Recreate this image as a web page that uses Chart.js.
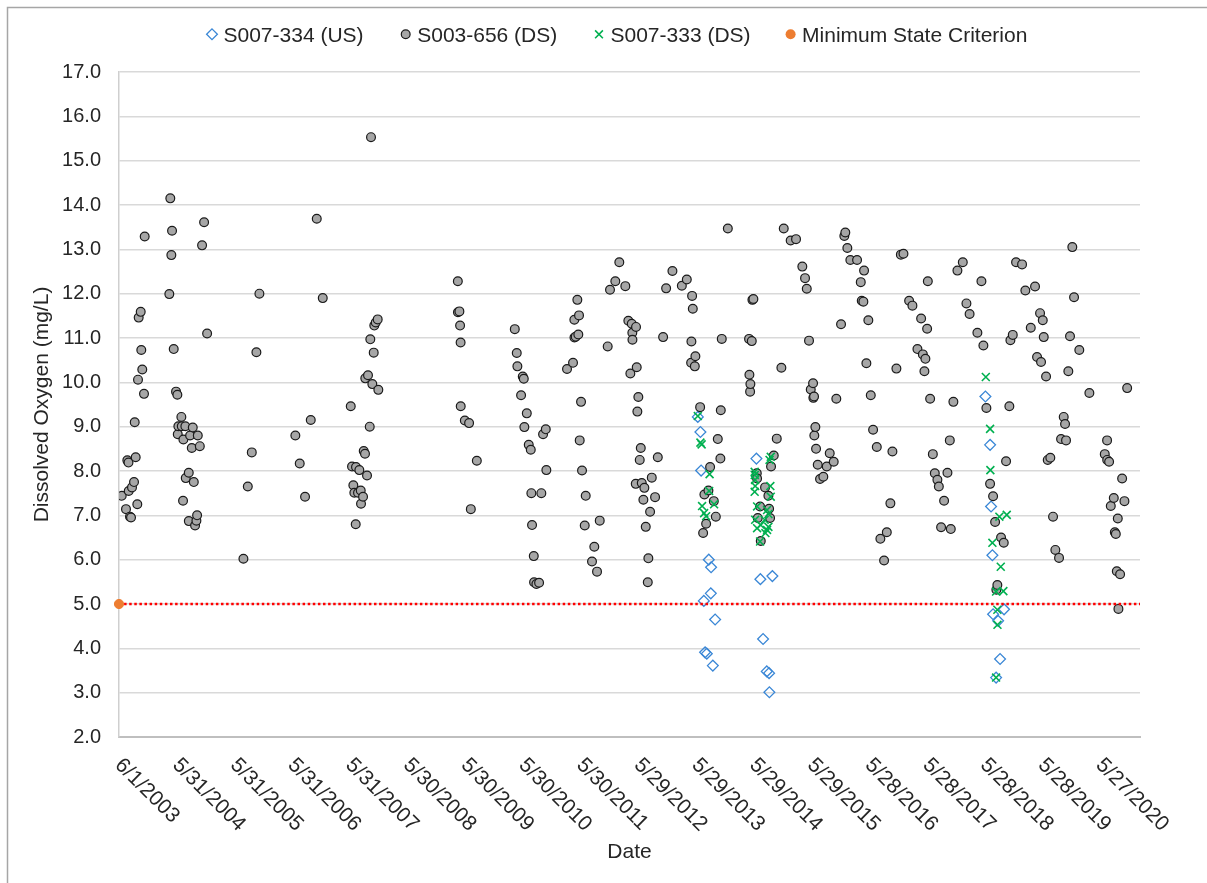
<!DOCTYPE html>
<html>
<head>
<meta charset="utf-8">
<script src="https://cdn.jsdelivr.net/npm/chart.js@4.4.1/dist/chart.umd.min.js"></script>
<style>
  html, body { margin: 0; padding: 0; background: #ffffff; }
  #wrap { position: relative; width: 1207px; height: 883px; }
  canvas { display: block; }
</style>
</head>
<body>
<div id="wrap"><canvas id="c" width="1207" height="883"></canvas></div>
<script>
// ---------------- DATA ----------------
// x-axis tick labels (dates, M/D/YYYY), 365-day spacing
const xTickLabels = ["6/1/2003","5/31/2004","5/31/2005","5/31/2006","5/31/2007","5/30/2008",
  "5/30/2009","5/30/2010","5/30/2011","5/29/2012","5/29/2013","5/29/2014","5/29/2015",
  "5/28/2016","5/28/2017","5/28/2018","5/28/2019","5/27/2020"];
const axisStartDate = "2003-06-01";
const axisEndDate = "2021-02-04";
const yMin = 2, yMax = 17, yStep = 1;
const criterionValue = 5.0;

const seriesNames = ["S007-334 (US)", "S003-656 (DS)", "S007-333 (DS)", "Minimum State Criterion"];

// [sample date as decimal year, dissolved oxygen mg/L]
const s007_334_us = [
  [2013.436,9.22],[2013.481,8.88],[2013.493,8.01],[2013.540,5.07],[2013.562,3.91],[2013.592,3.88],
  [2013.626,6.00],[2013.661,5.24],[2013.666,5.83],[2013.696,3.61],[2013.736,4.65],
  [2014.451,8.28],[2014.520,5.56],[2014.567,4.21],[2014.631,3.48],[2014.671,3.44],[2014.676,3.01],[2014.728,5.63],
  [2018.417,9.68],[2018.498,8.59],[2018.515,7.20],[2018.538,6.10],[2018.550,4.77],[2018.602,3.34],
  [2018.637,4.62],[2018.671,3.76],[2018.740,4.88]
];

const s003_656_ds = [
  [2003.461,7.44],[2003.535,7.14],[2003.558,8.24],[2003.578,8.19],[2003.582,7.55],[2003.604,6.97],[2003.622,6.95],
  [2003.639,7.63],[2003.674,7.75],[2003.686,9.10],[2003.703,8.31],[2003.731,7.25],[2003.743,10.06],[2003.755,11.46],
  [2003.790,11.59],[2003.800,10.73],[2003.817,10.29],[2003.847,9.74],[2003.859,13.29],
  [2004.285,11.99],[2004.302,14.15],[2004.320,12.87],[2004.332,13.42],[2004.361,10.75],[2004.401,9.79],[2004.424,9.72],
  [2004.431,8.83],[2004.441,9.01],[2004.493,9.22],[2004.500,9.01],[2004.522,7.33],[2004.528,8.71],[2004.562,9.01],
  [2004.569,7.84],[2004.621,7.96],[2004.622,6.87],[2004.644,8.80],[2004.673,8.52],[2004.690,8.98],[2004.708,7.75],
  [2004.730,6.77],[2004.753,6.88],[2004.765,7.00],[2004.777,8.80],[2004.812,8.56],[2004.851,13.09],[2004.886,13.61],
  [2004.938,11.10],
  [2005.567,6.02],[2005.643,7.65],[2005.712,8.42],[2005.792,10.68],[2005.844,12.00],
  [2006.467,8.80],[2006.543,8.17],[2006.635,7.42],[2006.734,9.15],[2006.838,13.69],[2006.942,11.90],
  [2007.427,9.46],[2007.449,8.10],[2007.472,7.68],[2007.489,7.51],[2007.513,6.80],[2007.518,8.09],[2007.553,7.51],
  [2007.576,8.02],[2007.600,7.56],[2007.605,7.26],[2007.640,7.42],[2007.652,8.45],[2007.674,8.39],[2007.679,10.09],
  [2007.709,7.90],[2007.726,10.16],[2007.756,9.00],[2007.766,10.97],[2007.778,15.53],[2007.801,9.96],[2007.825,10.67],
  [2007.835,11.28],[2007.860,11.35],[2007.894,11.42],[2007.905,9.83],
  [2009.280,12.28],[2009.282,11.58],[2009.307,11.60],[2009.319,11.28],[2009.328,10.90],[2009.330,9.46],[2009.401,9.14],
  [2009.475,9.08],[2009.505,7.14],[2009.609,8.23],
  [2010.267,11.20],[2010.301,10.66],[2010.312,10.36],[2010.376,9.71],[2010.405,10.13],[2010.423,10.08],[2010.433,8.99],
  [2010.475,9.30],[2010.509,8.59],[2010.544,8.48],[2010.554,7.50],[2010.566,6.78],[2010.596,6.08],[2010.601,5.49],
  [2010.641,5.45],[2010.688,5.48],[2010.727,7.50],[2010.757,8.83],[2010.804,8.94],[2010.814,8.02],
  [2011.172,10.30],[2011.276,10.44],[2011.299,11.41],[2011.301,11.01],[2011.323,11.03],[2011.351,11.86],[2011.368,11.08],
  [2011.380,11.51],[2011.392,8.69],[2011.415,9.56],[2011.432,8.01],[2011.479,6.77],[2011.496,7.44],[2011.605,5.96],
  [2011.645,6.29],[2011.692,5.73],[2011.739,6.88],[2011.877,10.81],[2011.917,12.09],
  [2012.009,12.28],[2012.078,12.71],[2012.182,12.17],[2012.234,11.39],[2012.269,10.20],[2012.293,11.32],[2012.303,11.12],
  [2012.305,10.96],[2012.362,7.71],[2012.367,11.25],[2012.379,10.34],[2012.390,9.34],[2012.407,9.67],[2012.431,8.25],
  [2012.449,8.52],[2012.466,7.73],[2012.494,7.35],[2012.511,7.62],[2012.535,6.74],[2012.570,5.49],[2012.580,6.03],
  [2012.610,7.08],[2012.639,7.85],[2012.696,7.41],[2012.743,8.31],[2012.835,11.02],[2012.887,12.12],[2012.996,12.51],
  [2013.159,12.18],[2013.245,12.32],[2013.320,10.44],[2013.325,10.92],[2013.337,11.95],[2013.349,11.66],[2013.384,10.36],
  [2013.394,10.59],[2013.476,9.44],[2013.528,6.60],[2013.550,7.47],[2013.580,6.81],[2013.620,7.56],[2013.649,8.09],
  [2013.713,7.32],[2013.748,6.97],[2013.782,8.72],[2013.827,8.28],[2013.834,9.37],[2013.851,10.98],[2013.956,13.47],
  [2014.324,10.98],[2014.330,10.17],[2014.342,9.79],[2014.347,9.96],[2014.371,10.93],[2014.382,11.86],[2014.399,11.88],
  [2014.458,7.95],[2014.463,7.83],[2014.475,6.94],[2014.515,7.20],[2014.527,6.42],[2014.601,7.63],[2014.659,7.44],
  [2014.671,7.15],[2014.688,6.94],[2014.705,8.10],[2014.752,8.35],[2014.804,8.73],[2014.884,10.33],[2014.925,13.47],
  [2015.045,13.20],[2015.138,13.23],[2015.247,12.61],[2015.294,12.35],[2015.324,12.11],[2015.363,10.94],[2015.393,9.84],
  [2015.433,9.98],[2015.438,9.65],[2015.450,9.68],[2015.455,8.80],[2015.473,8.99],[2015.485,8.50],[2015.514,8.14],
  [2015.554,7.82],[2015.611,7.87],[2015.670,8.10],[2015.722,8.40],[2015.791,8.21],[2015.836,9.63],[2015.918,11.31],
  [2015.975,13.30],[2015.992,13.38],
  [2016.027,13.03],[2016.079,12.76],[2016.195,12.76],[2016.259,12.26],[2016.276,11.84],[2016.304,11.82],[2016.316,12.52],
  [2016.356,10.43],[2016.390,11.40],[2016.432,9.71],[2016.472,8.93],[2016.536,8.54],[2016.598,6.47],[2016.662,5.98],
  [2016.709,6.62],[2016.771,7.27],[2016.806,8.44],[2016.875,10.31],[2016.952,12.88],[2016.997,12.90],
  [2017.095,11.84],[2017.152,11.73],[2017.239,10.75],[2017.303,11.44],[2017.333,10.63],[2017.360,10.25],[2017.377,10.53],
  [2017.407,11.21],[2017.419,12.28],[2017.459,9.63],[2017.506,8.38],[2017.540,7.95],[2017.585,7.80],[2017.610,7.65],
  [2017.649,6.73],[2017.701,7.33],[2017.759,7.96],[2017.800,8.69],[2017.817,6.69],[2017.862,9.56],[2017.932,12.52],
  [2018.025,12.71],[2018.088,11.78],[2018.143,11.54],[2018.278,11.12],[2018.348,12.28],[2018.382,10.83],[2018.434,9.42],
  [2018.498,7.71],[2018.550,7.43],[2018.585,6.85],[2018.607,5.32],[2018.624,5.43],[2018.688,6.50],[2018.735,6.38],
  [2018.775,8.22],[2018.832,9.46],[2018.850,10.95],[2018.891,11.07],[2018.948,12.71],
  [2019.052,12.66],[2019.109,12.07],[2019.203,11.23],[2019.277,12.16],[2019.312,10.57],[2019.364,11.56],[2019.381,10.46],
  [2019.411,11.40],[2019.428,11.02],[2019.468,10.13],[2019.497,8.25],[2019.542,8.30],[2019.589,6.97],[2019.629,6.22],
  [2019.693,6.04],[2019.728,8.72],[2019.774,9.22],[2019.797,9.06],[2019.814,8.69],[2019.854,10.25],[2019.883,11.04],
  [2019.923,13.05],[2019.953,11.92],
  [2020.044,10.73],[2020.218,9.76],[2020.484,8.38],[2020.524,8.69],[2020.526,8.25],[2020.559,8.21],[2020.588,7.21],
  [2020.640,7.39],[2020.658,6.62],[2020.675,6.58],[2020.692,5.74],[2020.709,6.93],[2020.720,4.89],[2020.749,5.67],
  [2020.784,7.83],[2020.824,7.32],[2020.871,9.87]
];

const s007_333_ds = [
  [2013.436,9.24],[2013.481,8.64],[2013.502,8.60],[2013.510,7.21],[2013.545,7.05],[2013.580,6.98],[2013.632,7.55],
  [2013.640,7.93],[2013.718,7.25],
  [2014.421,7.98],[2014.423,7.91],[2014.428,7.80],[2014.430,7.66],[2014.421,7.53],[2014.430,6.90],[2014.463,7.20],
  [2014.463,6.71],[2014.515,6.41],[2014.527,6.78],[2014.594,6.90],[2014.607,6.60],[2014.636,7.12],[2014.636,6.67],
  [2014.659,7.03],[2014.659,6.74],[2014.679,8.25],[2014.693,7.66],[2014.700,8.32],[2014.700,7.42],
  [2018.424,10.12],[2018.498,8.95],[2018.503,8.02],[2018.538,6.38],[2018.602,5.28],[2018.602,3.34],[2018.624,4.87],
  [2018.626,4.53],[2018.659,6.97],[2018.683,5.84],[2018.728,5.29],[2018.787,7.01]
];

// ---------------- HELPERS ----------------
function decYearToMs(y) {
  const yr = Math.floor(y);
  const a = Date.UTC(yr, 0, 1), b = Date.UTC(yr + 1, 0, 1);
  return a + (y - yr) * (b - a);
}
function mdyToMs(s) {
  const [m, d, y] = s.split('/').map(Number);
  return Date.UTC(y, m - 1, d);
}
const toPoints = arr => arr.map(([t, v]) => ({ x: decYearToMs(t), y: v }));
const minMs = Date.parse(axisStartDate);
const maxMs = Date.parse(axisEndDate);
const tickMs = xTickLabels.map(mdyToMs);

const FONT = '"Liberation Sans", Arial, sans-serif';
const TEXT = '#262626';
Chart.defaults.font.family = FONT;
Chart.defaults.color = TEXT;

const COLORS = { us: '#3a87d6', ds: '#a6a6a6', ds2: '#00b050', crit: '#ed7d31', line: '#ff0000' };

// ---------------- OVERLAY PLUGIN (rotated date labels, legend, frame) ----------------
function drawMarker(ctx, style, x, y) {
  ctx.save();
  if (style === 'diamond') {
    const r = 5.4;
    ctx.beginPath();
    ctx.moveTo(x, y - r); ctx.lineTo(x + r, y); ctx.lineTo(x, y + r); ctx.lineTo(x - r, y); ctx.closePath();
    ctx.strokeStyle = COLORS.us; ctx.lineWidth = 1.3; ctx.stroke();
  } else if (style === 'circle') {
    ctx.beginPath(); ctx.arc(x, y, 4.4, 0, Math.PI * 2);
    ctx.fillStyle = COLORS.ds; ctx.fill();
    ctx.strokeStyle = '#1a1a1a'; ctx.lineWidth = 1.2; ctx.stroke();
  } else if (style === 'cross') {
    const r = 3.9;
    ctx.beginPath();
    ctx.moveTo(x - r, y - r); ctx.lineTo(x + r, y + r);
    ctx.moveTo(x + r, y - r); ctx.lineTo(x - r, y + r);
    ctx.strokeStyle = COLORS.ds2; ctx.lineWidth = 1.6; ctx.stroke();
  } else if (style === 'dot') {
    ctx.beginPath(); ctx.arc(x, y, 5, 0, Math.PI * 2);
    ctx.fillStyle = COLORS.crit; ctx.fill();
  }
  ctx.restore();
}

const overlay = {
  id: 'overlay',
  afterDraw(chart) {
    const { ctx } = chart;
    const xs = chart.scales.x;
    ctx.save();
    // rotated x tick labels
    ctx.font = '21px ' + FONT;
    ctx.fillStyle = TEXT;
    ctx.textAlign = 'left';
    ctx.textBaseline = 'alphabetic';
    xTickLabels.forEach((lab, i) => {
      const px = xs.getPixelForValue(tickMs[i]);
      ctx.save();
      ctx.translate(px - 5, 766);
      ctx.rotate(Math.PI / 4);
      ctx.fillText(lab, 0, 0);
      ctx.restore();
    });
    // legend
    const legendStyles = ['diamond', 'circle', 'cross', 'dot'];
    const legendX = [212, 405.7, 599, 790.6];
    ctx.font = '21px ' + FONT;
    seriesNames.forEach((name, i) => {
      drawMarker(ctx, legendStyles[i], legendX[i], 34.3);
      ctx.fillStyle = TEXT;
      ctx.fillText(name, legendX[i] + 11.5, 42);
    });
    // chart frame (left & top edges visible)
    ctx.strokeStyle = '#a6a6a6';
    ctx.lineWidth = 1.5;
    ctx.beginPath();
    ctx.moveTo(7.5, 883); ctx.lineTo(7.5, 7.5); ctx.lineTo(1207, 7.5);
    ctx.stroke();
    ctx.restore();
  }
};

// ---------------- CHART ----------------
new Chart(document.getElementById('c'), {
  type: 'scatter',
  data: {
    datasets: [
      {
        label: seriesNames[0],
        data: toPoints(s007_334_us),
        pointStyle: 'rectRot',
        pointRadius: 5.4,
        pointBackgroundColor: 'rgba(0,0,0,0)',
        pointBorderColor: COLORS.us,
        pointBorderWidth: 1.3,
        order: 4
      },
      {
        label: seriesNames[1],
        data: toPoints(s003_656_ds),
        pointStyle: 'circle',
        pointRadius: 4.4,
        pointBackgroundColor: COLORS.ds,
        pointBorderColor: '#1a1a1a',
        pointBorderWidth: 1.2,
        order: 3
      },
      {
        label: seriesNames[2],
        data: toPoints(s007_333_ds),
        pointStyle: 'crossRot',
        pointRadius: 5.6,
        pointBackgroundColor: COLORS.ds2,
        pointBorderColor: COLORS.ds2,
        pointBorderWidth: 1.6,
        order: 2
      },
      {
        label: seriesNames[3],
        data: [{ x: minMs, y: criterionValue }, { x: maxMs, y: criterionValue }],
        showLine: true,
        borderColor: COLORS.line,
        borderWidth: 2.5,
        borderDash: [2.5, 2.6],
        pointStyle: 'circle',
        pointRadius: [4.6, 0],
        pointBackgroundColor: COLORS.crit,
        pointBorderColor: COLORS.crit,
        pointBorderWidth: 1,
        clip: false,
        order: 1
      }
    ]
  },
  options: {
    responsive: false,
    animation: false,
    events: [],
    layout: { padding: { left: 0, right: 67, top: 72, bottom: 0 } },
    plugins: { legend: { display: false }, tooltip: { enabled: false } },
    scales: {
      x: {
        type: 'linear',
        min: minMs,
        max: maxMs,
        afterBuildTicks: s => { s.ticks = tickMs.map(v => ({ value: v })); },
        afterFit: s => { s.height = 146; },
        ticks: { display: false },
        grid: { display: false },
        border: { display: true, color: '#bfbfbf', width: 2 },
        title: { display: true, text: 'Date', color: TEXT, font: { size: 21, family: FONT }, padding: { top: 0, bottom: 18 } }
      },
      y: {
        min: yMin,
        max: yMax,
        afterFit: s => { s.width = 119; },
        ticks: { stepSize: yStep, callback: v => Number(v).toFixed(1), color: TEXT, font: { size: 20, family: FONT }, padding: 18 },
        grid: { color: '#d9d9d9', lineWidth: 1.5, drawTicks: false },
        border: { display: true, color: '#cfcfcf', width: 1.5 },
        title: { display: true, text: 'Dissolved Oxygen (mg/L)', color: TEXT, font: { size: 21, family: FONT }, padding: { top: 29.4, bottom: 0 } }
      }
    }
  },
  plugins: [overlay]
});
</script>
</body>
</html>
